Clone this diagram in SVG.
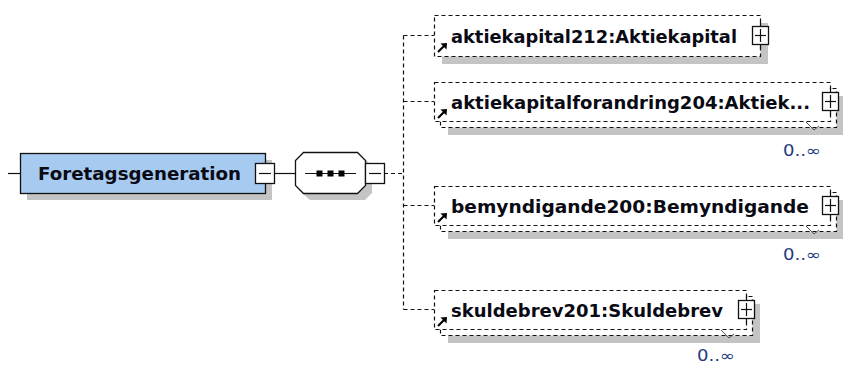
<svg xmlns="http://www.w3.org/2000/svg" width="843" height="365" viewBox="0 0 843 365">
<style>
.bg{fill:#ffffff}
.shadow{fill:#c4c4c4}
.main{fill:#a6caf0;stroke:#111;stroke-width:1.3}
.solid{fill:none;stroke:#111;stroke-width:1.2}
.dash{fill:none;stroke:#111;stroke-width:1.2;stroke-dasharray:4 3}
.dbox{fill:#ffffff;stroke:#111;stroke-width:1.2;stroke-dasharray:4 3}
.btn{fill:#ffffff;stroke:#111;stroke-width:1.3}
.lbl{font-family:"DejaVu Sans","Liberation Sans",sans-serif;font-weight:bold;font-size:17px;fill:#0a0a14}
.occ{font-family:"DejaVu Sans","Liberation Sans",sans-serif;font-size:15px;fill:#1f3a80}
.tick{fill:none;stroke:#555;stroke-width:1}
</style>
<defs>
<g id="refArrow">
<line x1="1" y1="10" x2="7.5" y2="3.5" stroke="#000" stroke-width="2.2"/>
<polygon points="10,1 3.5,1.5 9.5,7.5" fill="#000"/>
</g>
</defs>
<rect class="bg" x="0" y="0" width="843" height="365"/>

<g id="connectors">
<line class="solid" x1="8" y1="173.5" x2="20" y2="173.5"/>
<line class="solid" x1="274" y1="173.5" x2="295" y2="173.5"/>
<line class="dash" x1="384" y1="173.5" x2="403.5" y2="173.5"/>
<line class="dash" x1="403.5" y1="35.5" x2="403.5" y2="309.5"/>
<line class="dash" x1="403.5" y1="35.5" x2="434" y2="35.5"/>
<line class="dash" x1="403.5" y1="101.5" x2="434" y2="101.5"/>
<line class="dash" x1="403.5" y1="205.5" x2="434" y2="205.5"/>
<line class="dash" x1="403.5" y1="309.5" x2="434" y2="309.5"/>
</g>

<g id="Foretagsgeneration">
<rect class="shadow" x="27" y="160" width="245" height="40"/>
<rect class="main" x="20.5" y="153.5" width="245" height="40"/>
<text class="lbl" x="38" y="180" textLength="203" lengthAdjust="spacingAndGlyphs">Foretagsgeneration</text>
<rect class="btn" x="255.5" y="163.5" width="19" height="20"/>
<line class="solid" x1="259" y1="173.5" x2="271" y2="173.5"/>
</g>

<g id="sequence">
<polygon class="shadow" points="310,159 365,159 372,166 372,193 365,200 310,200 302,193 302,166"/>
<polygon class="btn" points="303.5,152.5 357.5,152.5 365.5,160.5 365.5,185.5 357.5,193.5 303.5,193.5 295.5,185.5 295.5,160.5"/>
<line class="solid" x1="305" y1="173.5" x2="356" y2="173.5"/>
<rect x="316.5" y="170.5" width="6" height="6" fill="#000"/>
<rect x="327.5" y="170.5" width="6" height="6" fill="#000"/>
<rect x="338.5" y="170.5" width="6" height="6" fill="#000"/>
<rect class="btn" x="365.5" y="163.5" width="19" height="20"/>
<line class="solid" x1="369" y1="173.5" x2="381" y2="173.5"/>
</g>

<g id="aktiekapital212">
<rect class="shadow" x="442" y="23" width="326" height="41"/>
<rect class="dbox" x="434.5" y="15.5" width="326" height="41"/>
<text class="lbl" x="451" y="43" textLength="286" lengthAdjust="spacingAndGlyphs">aktiekapital212:Aktiekapital</text>
<use href="#refArrow" x="437" y="42"/>
<line class="solid" x1="760.5" y1="22" x2="760.5" y2="49"/>
<rect class="btn" x="752.5" y="26.5" width="16" height="18"/>
<line class="solid" x1="755" y1="35.5" x2="766" y2="35.5"/>
<line class="solid" x1="760.5" y1="29" x2="760.5" y2="42"/>
</g>

<g id="aktiekapitalforandring204">
<rect class="shadow" x="448" y="96" width="400" height="39"/>
<rect class="dbox" x="440.5" y="88.5" width="396" height="39"/>
<rect class="dbox" x="434.5" y="82.5" width="396" height="39"/>
<text class="lbl" x="451" y="109" textLength="359" lengthAdjust="spacingAndGlyphs">aktiekapitalforandring204:Aktiek...</text>
<use href="#refArrow" x="437" y="108"/>
<polyline class="tick" points="806,122 814,130 819,126"/>
<line class="solid" x1="830.5" y1="88" x2="830.5" y2="115"/>
<rect class="btn" x="822.5" y="92.5" width="16" height="18"/>
<line class="solid" x1="825" y1="101.5" x2="836" y2="101.5"/>
<line class="solid" x1="830.5" y1="95" x2="830.5" y2="108"/>
<text class="occ" x="783" y="156" textLength="38" lengthAdjust="spacingAndGlyphs">0..∞</text>
</g>

<g id="bemyndigande200">
<rect class="shadow" x="448" y="200" width="400" height="39"/>
<rect class="dbox" x="440.5" y="192.5" width="396" height="39"/>
<rect class="dbox" x="434.5" y="186.5" width="396" height="39"/>
<text class="lbl" x="451" y="213" textLength="358" lengthAdjust="spacingAndGlyphs">bemyndigande200:Bemyndigande</text>
<use href="#refArrow" x="437" y="212"/>
<polyline class="tick" points="806,226 814,234 819,230"/>
<line class="solid" x1="830.5" y1="192" x2="830.5" y2="219"/>
<rect class="btn" x="822.5" y="196.5" width="16" height="18"/>
<line class="solid" x1="825" y1="205.5" x2="836" y2="205.5"/>
<line class="solid" x1="830.5" y1="199" x2="830.5" y2="212"/>
<text class="occ" x="783" y="260" textLength="38" lengthAdjust="spacingAndGlyphs">0..∞</text>
</g>

<g id="skuldebrev201">
<rect class="shadow" x="448" y="304" width="312" height="39"/>
<rect class="dbox" x="440.5" y="296.5" width="312" height="39"/>
<rect class="dbox" x="434.5" y="290.5" width="312" height="39"/>
<text class="lbl" x="451" y="317" textLength="272" lengthAdjust="spacingAndGlyphs">skuldebrev201:Skuldebrev</text>
<use href="#refArrow" x="437" y="316"/>
<polyline class="tick" points="721,330 729,338 734,334"/>
<line class="solid" x1="746.5" y1="296" x2="746.5" y2="323"/>
<rect class="btn" x="738.5" y="300.5" width="16" height="18"/>
<line class="solid" x1="741" y1="309.5" x2="752" y2="309.5"/>
<line class="solid" x1="746.5" y1="303" x2="746.5" y2="316"/>
<text class="occ" x="697" y="361" textLength="38" lengthAdjust="spacingAndGlyphs">0..∞</text>
</g>
</svg>
